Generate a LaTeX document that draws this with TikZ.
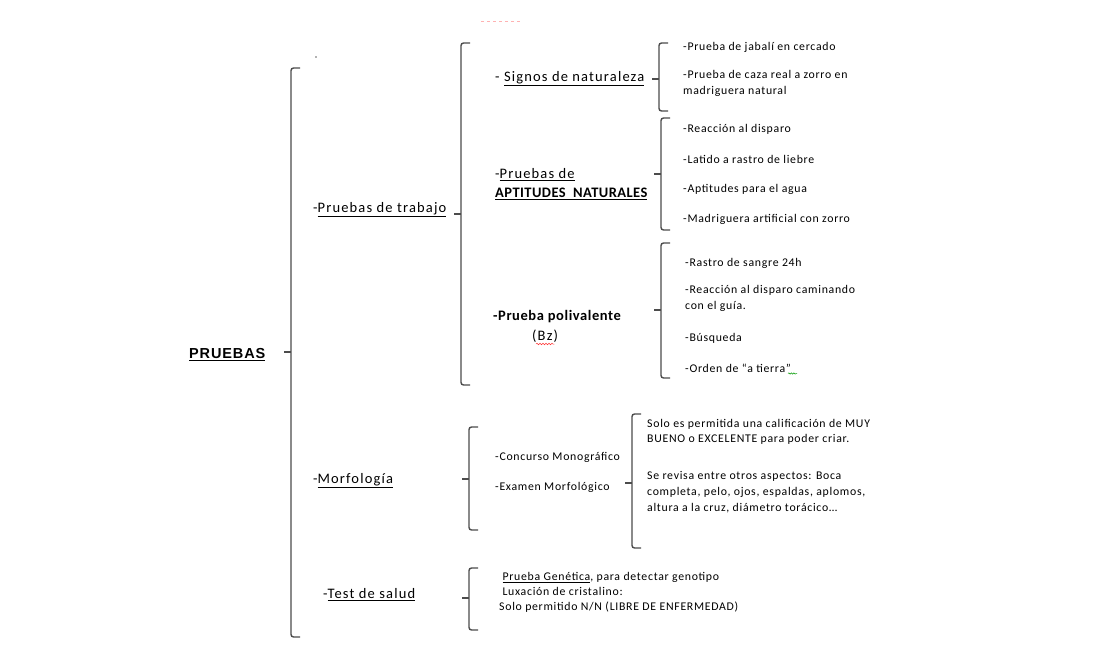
\documentclass[tikz,border=0pt]{standalone}
\usepackage{fontspec}
\setmainfont{Carlito}
\newfontfamily\hdfont{Liberation Sans}
\usetikzlibrary{decorations.pathmorphing}
\tikzset{
  brk/.style={draw=black!70, line width=1.4pt},
  big/.style={anchor=west, inner sep=0pt, text=black, font=\fontsize{14.5}{20}\selectfont\addfontfeature{LetterSpace=8}},
  sm/.style={anchor=west, inner sep=0pt, text=black, align=left, font=\fontsize{11.8}{16}\selectfont\addfontfeature{LetterSpace=6}},
  smb/.style={sm, font=\fontsize{11.8}{15}\selectfont\addfontfeature{LetterSpace=6}},
  redwave/.style={red!80, line width=0.5pt, decorate, decoration={snake, amplitude=0.8pt, segment length=3pt}},
  greenwave/.style={green!60!black, line width=0.5pt, decorate, decoration={snake, amplitude=0.7pt, segment length=2.5pt}},
}
\newcommand\brkt[4]{%
  \draw[brk, rounded corners=2.5pt] (#1+9,#2) -- (#1,#2) -- (#1,#3) -- (#1+9,#3);
  \draw[brk] (#1,#4) -- (#1-7,#4);}
\begin{document}
\begin{tikzpicture}[x=1pt,y=-1pt]
\useasboundingbox (0,0) rectangle (1093,664);
% faint marks at top
\draw[red!30, dashed, line width=0.6pt] (481,21) -- (522,21);
\fill[black!60] (316,57) circle (0.8);

% root
\node[anchor=west, inner sep=0pt, font=\hdfont\bfseries\fontsize{14.5}{16}\selectfont\addfontfeature{LetterSpace=6}] (pruebas) at (189,355) {\underline{PRUEBAS}};
\brkt{291}{68}{637}{352}

% level 1
\node[big] (trabajo) at (313,210) {-\underline{Pruebas de trabajo}};
\node[big] (morfo) at (313,481) {-\underline{Morfología}};
\node[big] (salud) at (323,595) {-\underline{Test de salud}};

% Pruebas de trabajo
\brkt{461}{43}{385}{214}
\node[big] (signos) at (495,79) {- \underline{Signos de naturaleza}};
\node[big, align=left, anchor=north west] (aptit) at (495,168) {-\underline{Pruebas de}\\[-1pt]{\bfseries\addfontfeature{LetterSpace=3}\underline{APTITUDES\ \ NATURALES}}};
\node[big, font=\fontsize{14.5}{20}\selectfont\bfseries\addfontfeature{LetterSpace=4}] (poli) at (493,317) {-Prueba polivalente};
\node[big] (bz) at (532,336) {(Bz)};
\draw[redwave] ([xshift=4pt,yshift=-1.5pt]bz.south west) -- ([xshift=-4pt,yshift=-1.5pt]bz.south east);

% Signos de naturaleza
\brkt{659}{43}{111}{79}
\node[sm] (s1) at (683,47) {-Prueba de jabalí en cercado};
\node[sm, anchor=north west] (s2) at (683,70) {-Prueba de caza real a zorro en\\madriguera natural};

% Aptitudes naturales
\brkt{661}{118}{230}{174}
\node[sm] (a1) at (683,129) {-Reacción al disparo};
\node[sm] (a2) at (683,159) {-Latido a rastro de liebre};
\node[sm] (a3) at (683,189) {-Aptitudes para el agua};
\node[sm] (a4) at (683,219) {-Madriguera artificial con zorro};

% Prueba polivalente
\brkt{661}{243}{378}{310}
\node[sm] (p1) at (685,263) {-Rastro de sangre 24h};
\node[sm, anchor=north west] (p2) at (685,285) {-Reacción al disparo caminando\\con el guía.};
\node[sm] (p3) at (685,338) {-Búsqueda};
\node[sm] (p4) at (685,368) {-Orden de “a tierra”};
\draw[greenwave] ([xshift=-3pt,yshift=-1pt]p4.south east) -- ([xshift=6pt,yshift=-1pt]p4.south east);

% Morfologia
\brkt{469}{427}{530}{479}
\node[sm] (m1) at (495,457) {-Concurso Monográfico};
\node[sm] (m2) at (495,487) {-Examen Morfológico};
\brkt{632}{414}{548}{483}
\node[smb, anchor=north west] (m3) at (647,419) {Solo es permitida una calificación de MUY\\BUENO o EXCELENTE para poder criar.};
\node[sm, anchor=north west] (m4) at (647,471) {Se revisa entre otros aspectos: Boca\\completa, pelo, ojos, espaldas, aplomos,\\altura a la cruz, diámetro torácico…};

% Test de salud
\brkt{469}{568}{630}{598}
\node[smb, anchor=north west] (t1) at (499,572) {\ \underline{Prueba Genética}, para detectar genotipo\\\ Luxación de cristalino:\\Solo permitido N/N (LIBRE DE ENFERMEDAD)};
\end{tikzpicture}
\end{document}
